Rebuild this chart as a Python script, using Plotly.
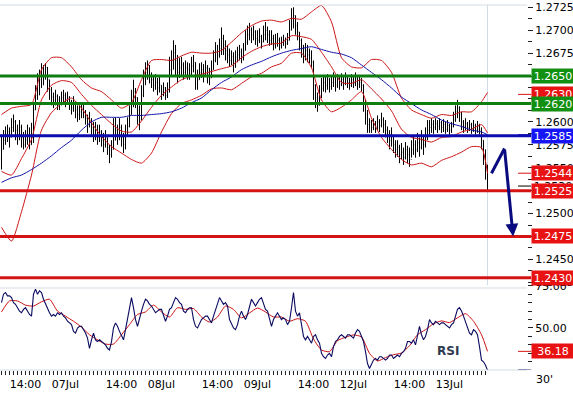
import plotly.graph_objects as go

# ---------------- data (30' bars, 06Jul 08:00 .. 13Jul 09:30) ----------------
first_open = 1.2560
close = [1.2570,1.2580,1.2586,1.2589,1.2583,1.2594,1.2600,1.2591,1.2586,1.2594,
1.2583,1.2575,1.2580,1.2586,1.2575,1.2583,1.2613,1.2629,1.2640,1.2646,
1.2657,1.2651,1.2659,1.2646,1.2635,1.2627,1.2624,1.2628,1.2624,1.2620,
1.2626,1.2629,1.2624,1.2627,1.2621,1.2615,1.2622,1.2613,1.2608,1.2611,
1.2615,1.2611,1.2604,1.2597,1.2602,1.2594,1.2586,1.2591,1.2583,1.2589,
1.2580,1.2575,1.2583,1.2572,1.2564,1.2570,1.2580,1.2591,1.2586,1.2594,
1.2583,1.2575,1.2586,1.2595,1.2608,1.2624,1.2633,1.2626,1.2608,1.2602,
1.2629,1.2648,1.2654,1.2659,1.2651,1.2646,1.2640,1.2643,1.2637,1.2640,
1.2633,1.2637,1.2629,1.2635,1.2657,1.2667,1.2676,1.2667,1.2654,1.2659,
1.2662,1.2654,1.2659,1.2657,1.2652,1.2661,1.2665,1.2651,1.2646,1.2654,
1.2657,1.2652,1.2659,1.2651,1.2648,1.2657,1.2667,1.2676,1.2673,1.2680,
1.2691,1.2684,1.2678,1.2673,1.2667,1.2671,1.2664,1.2670,1.2673,1.2676,
1.2670,1.2678,1.2687,1.2695,1.2700,1.2695,1.2698,1.2691,1.2689,1.2693,
1.2687,1.2695,1.2700,1.2695,1.2689,1.2691,1.2684,1.2687,1.2689,1.2684,
1.2687,1.2689,1.2685,1.2689,1.2700,1.2713,1.2716,1.2705,1.2698,1.2689,
1.2680,1.2673,1.2678,1.2673,1.2670,1.2665,1.2640,1.2626,1.2618,1.2629,
1.2637,1.2643,1.2640,1.2646,1.2639,1.2643,1.2648,1.2640,1.2646,1.2641,
1.2646,1.2642,1.2648,1.2643,1.2640,1.2646,1.2642,1.2647,1.2641,1.2643,
1.2640,1.2624,1.2608,1.2597,1.2600,1.2594,1.2598,1.2595,1.2600,1.2596,
1.2602,1.2597,1.2591,1.2586,1.2580,1.2584,1.2575,1.2570,1.2572,1.2564,
1.2567,1.2561,1.2570,1.2564,1.2559,1.2570,1.2575,1.2570,1.2577,1.2572,
1.2580,1.2575,1.2583,1.2591,1.2594,1.2597,1.2594,1.2598,1.2595,1.2599,
1.2594,1.2597,1.2592,1.2596,1.2591,1.2595,1.2602,1.2611,1.2615,1.2608,
1.2600,1.2595,1.2598,1.2594,1.2597,1.2592,1.2596,1.2591,1.2595,1.2591,
1.2580,1.2564,1.2553,1.2530]

high = [1.2586,1.2591,1.2595,1.2597,1.2594,1.2604,1.2608,1.2602,1.2597,1.2602,
1.2597,1.2589,1.2591,1.2597,1.2594,1.2599,1.2621,1.2640,1.2653,1.2657,
1.2664,1.2662,1.2664,1.2660,1.2646,1.2638,1.2632,1.2635,1.2630,1.2628,
1.2633,1.2635,1.2632,1.2633,1.2628,1.2624,1.2628,1.2622,1.2618,1.2618,
1.2621,1.2620,1.2613,1.2608,1.2611,1.2604,1.2600,1.2600,1.2597,1.2597,
1.2591,1.2588,1.2591,1.2583,1.2575,1.2580,1.2604,1.2605,1.2597,1.2604,
1.2597,1.2588,1.2597,1.2605,1.2618,1.2635,1.2646,1.2637,1.2627,1.2618,
1.2640,1.2657,1.2665,1.2667,1.2662,1.2654,1.2651,1.2652,1.2648,1.2649,
1.2640,1.2643,1.2638,1.2643,1.2671,1.2678,1.2689,1.2684,1.2673,1.2670,
1.2671,1.2665,1.2667,1.2665,1.2664,1.2671,1.2673,1.2665,1.2657,1.2664,
1.2665,1.2663,1.2667,1.2662,1.2659,1.2667,1.2678,1.2687,1.2684,1.2691,
1.2703,1.2695,1.2689,1.2684,1.2680,1.2678,1.2676,1.2678,1.2682,1.2684,
1.2680,1.2686,1.2700,1.2705,1.2708,1.2703,1.2705,1.2700,1.2700,1.2702,
1.2695,1.2705,1.2709,1.2704,1.2700,1.2700,1.2695,1.2696,1.2697,1.2692,
1.2693,1.2695,1.2692,1.2697,1.2711,1.2724,1.2725,1.2716,1.2709,1.2698,
1.2691,1.2684,1.2686,1.2684,1.2680,1.2678,1.2667,1.2641,1.2632,1.2640,
1.2648,1.2651,1.2649,1.2652,1.2648,1.2650,1.2654,1.2649,1.2652,1.2649,
1.2653,1.2650,1.2654,1.2651,1.2648,1.2652,1.2649,1.2654,1.2649,1.2650,
1.2648,1.2641,1.2624,1.2613,1.2604,1.2602,1.2604,1.2601,1.2607,1.2603,
1.2610,1.2605,1.2602,1.2595,1.2591,1.2594,1.2586,1.2580,1.2580,1.2575,
1.2577,1.2572,1.2578,1.2574,1.2572,1.2580,1.2586,1.2580,1.2588,1.2583,
1.2591,1.2586,1.2594,1.2602,1.2602,1.2604,1.2602,1.2604,1.2602,1.2604,
1.2601,1.2603,1.2600,1.2602,1.2598,1.2600,1.2611,1.2618,1.2624,1.2617,
1.2611,1.2602,1.2604,1.2600,1.2602,1.2599,1.2602,1.2598,1.2601,1.2598,
1.2594,1.2580,1.2570,1.2553]

low = [1.2548,1.2570,1.2575,1.2578,1.2572,1.2586,1.2589,1.2580,1.2575,1.2580,
1.2572,1.2570,1.2572,1.2575,1.2570,1.2575,1.2577,1.2613,1.2624,1.2629,
1.2637,1.2640,1.2646,1.2633,1.2624,1.2618,1.2615,1.2618,1.2613,1.2613,
1.2618,1.2621,1.2616,1.2620,1.2613,1.2608,1.2611,1.2604,1.2600,1.2602,
1.2604,1.2604,1.2597,1.2588,1.2594,1.2586,1.2578,1.2580,1.2575,1.2578,
1.2573,1.2567,1.2572,1.2564,1.2555,1.2561,1.2570,1.2580,1.2575,1.2580,
1.2573,1.2566,1.2570,1.2584,1.2594,1.2608,1.2616,1.2615,1.2597,1.2591,
1.2602,1.2627,1.2640,1.2646,1.2642,1.2637,1.2633,1.2635,1.2629,1.2632,
1.2624,1.2628,1.2624,1.2626,1.2632,1.2651,1.2657,1.2651,1.2642,1.2648,
1.2651,1.2646,1.2649,1.2646,1.2646,1.2651,1.2654,1.2635,1.2635,1.2646,
1.2648,1.2643,1.2650,1.2642,1.2640,1.2648,1.2657,1.2665,1.2662,1.2670,
1.2673,1.2673,1.2667,1.2664,1.2660,1.2662,1.2654,1.2659,1.2665,1.2667,
1.2664,1.2667,1.2678,1.2684,1.2689,1.2686,1.2689,1.2684,1.2682,1.2686,
1.2680,1.2687,1.2689,1.2686,1.2683,1.2684,1.2678,1.2680,1.2682,1.2678,
1.2680,1.2683,1.2680,1.2684,1.2689,1.2700,1.2702,1.2695,1.2689,1.2678,
1.2670,1.2664,1.2667,1.2665,1.2664,1.2659,1.2624,1.2615,1.2611,1.2618,
1.2626,1.2633,1.2632,1.2635,1.2632,1.2635,1.2638,1.2633,1.2637,1.2635,
1.2639,1.2635,1.2640,1.2637,1.2635,1.2638,1.2637,1.2639,1.2635,1.2637,
1.2633,1.2611,1.2597,1.2588,1.2588,1.2588,1.2591,1.2588,1.2591,1.2589,
1.2594,1.2588,1.2583,1.2577,1.2570,1.2573,1.2566,1.2561,1.2562,1.2555,
1.2559,1.2553,1.2559,1.2555,1.2551,1.2561,1.2564,1.2561,1.2567,1.2562,
1.2570,1.2564,1.2572,1.2580,1.2586,1.2588,1.2587,1.2591,1.2588,1.2591,
1.2588,1.2589,1.2587,1.2589,1.2586,1.2588,1.2594,1.2600,1.2604,1.2600,
1.2591,1.2588,1.2591,1.2588,1.2590,1.2587,1.2589,1.2586,1.2588,1.2586,
1.2570,1.2553,1.2537,1.2524]

# indicator samples (bar index of each sample)
band_x = [0,5,10,15,20,25,30,35,40,45,50,55,60,65,70,75,80,85,90,95,
          100,105,110,115,120,125,130,135,140,145,150,155,160,165,170,175,180,185,190,195,
          200,205,210,215,220,225,230,235,240,243]
boll_upper = [1.2608,1.2615,1.2617,1.2619,1.2657,1.2670,1.2670,1.2660,1.2646,1.2637,
 1.2633,1.2624,1.2615,1.2621,1.2646,1.2667,1.2668,1.2667,1.2672,1.2676,
 1.2675,1.2675,1.2678,1.2687,1.2697,1.2705,1.2710,1.2711,1.2709,1.2713,
 1.2712,1.2720,1.2727,1.2709,1.2670,1.2660,1.2659,1.2668,1.2667,1.2654,
 1.2626,1.2613,1.2608,1.2604,1.2608,1.2607,1.2611,1.2611,1.2622,1.2632]
boll_mid = [1.2546,1.2542,1.2560,1.2581,1.2624,1.2640,1.2645,1.2643,1.2630,1.2618,
 1.2608,1.2598,1.2590,1.2589,1.2601,1.2616,1.2629,1.2638,1.2646,1.2650,
 1.2652,1.2655,1.2658,1.2661,1.2670,1.2677,1.2682,1.2685,1.2686,1.2694,
 1.2693,1.2690,1.2676,1.2660,1.2643,1.2642,1.2646,1.2636,1.2625,1.2612,
 1.2592,1.2583,1.2581,1.2578,1.2583,1.2584,1.2589,1.2592,1.2597,1.2588]
boll_lower = [1.2485,1.2470,1.2502,1.2542,1.2591,1.2610,1.2620,1.2626,1.2615,1.2599,
 1.2584,1.2573,1.2566,1.2559,1.2555,1.2566,1.2589,1.2609,1.2620,1.2624,
 1.2629,1.2636,1.2637,1.2635,1.2642,1.2649,1.2653,1.2660,1.2664,1.2675,
 1.2675,1.2659,1.2624,1.2611,1.2616,1.2624,1.2633,1.2604,1.2583,1.2570,
 1.2559,1.2553,1.2555,1.2551,1.2558,1.2562,1.2567,1.2573,1.2572,1.2544]
ma_blue = [1.2534,1.2539,1.2542,1.2548,1.2555,1.2563,1.2572,1.2580,1.2591,1.2600,
 1.2605,1.2605,1.2605,1.2607,1.2607,1.2608,1.2609,1.2611,1.2615,1.2621,
 1.2626,1.2635,1.2643,1.2649,1.2657,1.2662,1.2666,1.2671,1.2675,1.2678,
 1.2680,1.2682,1.2679,1.2676,1.2674,1.2670,1.2662,1.2654,1.2646,1.2637,
 1.2627,1.2620,1.2613,1.2608,1.2602,1.2598,1.2595,1.2591,1.2589,1.2586]

rsi = [65,70,71,69,69,68,65,64,62,60,
59,61,62,60,58,57,70,73,70,72,
71,67,64,61,59,57,58,57,59,58,
59,57,56,54,53,52,48,47,50,51,
51,49,47,44,38,43,47,43,42,43,
42,41,40,38,37,42,50,53,51,48,
45,43,49,56,63,68,62,55,51,56,
60,64,67,66,64,63,61,59,60,61,
61,58,54,57,61,62,65,68,67,65,
64,60,59,61,62,62,55,51,50,53,
55,56,57,57,55,53,57,61,65,68,
66,64,65,63,55,52,50,49,52,57,
60,57,55,58,62,67,65,63,65,67,
68,64,61,60,55,51,55,57,59,57,
55,56,55,52,54,62,71,60,57,59,
51,45,43,45,43,41,45,46,43,41,
35,33,32,34,35,33,39,42,43,45,
46,45,44,46,46,45,44,47,49,48,
45,42,36,29,26,29,31,32,31,33,
33,32,31,32,34,34,32,33,34,33,
35,36,38,42,42,41,43,40,45,51,
46,43,45,49,55,53,52,54,53,52,
53,53,52,51,50,52,53,57,61,62,
60,57,54,50,47,46,49,48,46,39,
31,30,28,25.08]
sig_x = [0,4,8,12,16,20,24,28,32,36,40,44,48,52,56,60,64,68,72,76,
         80,84,88,92,96,100,104,108,112,116,120,124,128,132,136,140,144,148,152,156,
         160,164,168,172,176,180,184,188,192,196,200,204,208,212,216,220,224,228,232,236,
         240,243]
rsi_signal = [59.5,66,66,63.5,63,65.5,67,60,57,54,
 50.5,46,43,40.5,40.5,46,52,58,59.5,63.5,
 59.5,56.5,62,61,61.5,56.5,53.5,56.5,63,61,
 56,58.9,61.8,59.5,56.5,56.5,54,55.5,54,43.5,
 37,36,42.5,44.5,45.9,44.7,35,30.5,32.5,34.2,
 35.2,39.5,46,49,52.5,54.2,53.2,56,58.5,54,
 46,36.18]

levels = [1.2650, 1.2620, 1.2585, 1.2525, 1.2475, 1.2430]
level_kind = ["green", "green", "blue", "red", "red", "red"]
upper_last = 1.2630
lower_last = 1.2544
last_close = 1.2530
forecast_x = [245, 251.5, 255.8]
forecast_y = [1.2544, 1.2571, 1.2475]

tick_pos = [12, 32, 60, 80, 108, 128, 156, 176, 204, 224]
tick_lab = ["14:00", "07Jul", "14:00", "08Jul", "14:00", "09Jul", "14:00", "12Jul", "14:00", "13Jul"]

# ---------------- styles ----------------
LINE_COL = {"green": "#0f7d0f", "blue": "#0c0cb0", "red": "#d41414"}
BOX_COL = {"green": "#129012", "blue": "#1515f5", "red": "#e81212"}
FONT = "DejaVu Sans, Verdana, sans-serif"

n = len(close)
bars = list(range(n))
opens = [first_open] + close[:-1]

fig = go.Figure()
fig.add_trace(go.Ohlc(x=bars, open=opens, high=high, low=low, close=close,
                      increasing=dict(line=dict(color="black", width=1)),
                      decreasing=dict(line=dict(color="black", width=1)),
                      tickwidth=0.3, hoverinfo="skip", xaxis="x", yaxis="y"))
for arr in (boll_upper, boll_mid, boll_lower):
    fig.add_trace(go.Scatter(x=band_x, y=arr, mode="lines", line=dict(color="#cc1616", width=1, shape="spline", smoothing=0.6),
                             hoverinfo="skip", xaxis="x", yaxis="y"))
fig.add_trace(go.Scatter(x=band_x, y=ma_blue, mode="lines", line=dict(color="#1212a8", width=1, shape="spline", smoothing=0.6),
                         hoverinfo="skip", xaxis="x", yaxis="y"))
fig.add_trace(go.Scatter(x=forecast_x[:2], y=forecast_y[:2], mode="lines", line=dict(color="#0a0a80", width=3),
                         hoverinfo="skip", xaxis="x", yaxis="y", cliponaxis=False))
fig.add_trace(go.Scatter(x=sig_x, y=rsi_signal, mode="lines", line=dict(color="#cc1010", width=1, shape="spline", smoothing=0.6),
                         hoverinfo="skip", xaxis="x", yaxis="y2"))
fig.add_trace(go.Scatter(x=bars, y=rsi, mode="lines", line=dict(color="#0a0a60", width=1.1),
                         hoverinfo="skip", xaxis="x", yaxis="y2"))

shapes = []
border = "#d3dde6"
shapes.append(dict(type="line", xref="paper", x0=0, x1=1, yref="y domain", y0=1, y1=1, line=dict(color=border, width=1)))
shapes.append(dict(type="line", xref="paper", x0=0, x1=1, yref="y domain", y0=0, y1=0, line=dict(color=border, width=1)))
shapes.append(dict(type="line", xref="paper", x0=0, x1=1, yref="y2 domain", y0=0, y1=0, line=dict(color=border, width=1)))
shapes.append(dict(type="line", xref="x", x0=n - 1, x1=n - 1, yref="paper", y0=0, y1=1, line=dict(color="#cfdbe6", width=1), layer="below"))
for lv, kind in zip(levels, level_kind):
    shapes.append(dict(type="line", xref="paper", x0=0, x1=1.008, yref="y", y0=lv, y1=lv,
                       line=dict(color=LINE_COL[kind], width=3)))
# small marker dashes beside value boxes
for yv, col, yr in [(upper_last, "#d41414", "y"), (lower_last, "#d41414", "y"), (last_close, "black", "y"),
                    (ma_blue[-1], "#0c0cb0", "y"), (rsi_signal[-1], "#d41414", "y2"), (rsi[-1], "#0a0a60", "y2")]:
    shapes.append(dict(type="line", xref="paper", x0=0.983, x1=1.008, yref=yr, y0=yv, y1=yv, line=dict(color=col, width=1)))

def box(y, text, bg, yref="y", fc="white"):
    return dict(xref="paper", x=1, xshift=4, xanchor="left", yref=yref, y=y, yanchor="middle",
                text=text, showarrow=False, bgcolor=bg, font=dict(color=fc, size=11, family=FONT),
                width=42, height=14, align="center", borderpad=0)

ann = []
ann.append(box(upper_last, f"{upper_last:.4f}", BOX_COL["red"]))
ann.append(box(last_close, f"{last_close:.4f}", "rgba(0,0,0,0)", fc="black"))
for lv, kind in zip(levels[:3], level_kind[:3]):
    ann.append(box(lv, f"{lv:.4f}", BOX_COL[kind]))
ann.append(box(lower_last, f"{lower_last:.4f}", BOX_COL["red"]))
for lv, kind in zip(levels[3:], level_kind[3:]):
    ann.append(box(lv, f"{lv:.4f}", BOX_COL[kind]))
ann.append(box(rsi_signal[-1], f"{rsi_signal[-1]:.2f}", BOX_COL["red"], yref="y2"))
ann.append(box(rsi[-1], f"{rsi[-1]:.2f}", "#00005a", yref="y2"))
ann.append(dict(xref="x", yref="y", x=forecast_x[2], y=forecast_y[2], ax=forecast_x[1], ay=forecast_y[1],
                axref="x", ayref="y", showarrow=True, arrowhead=2, arrowsize=0.85, arrowwidth=3,
                arrowcolor="#0a0a80", text=""))
ann.append(dict(xref="x", yref="y2", x=223, y=36.4, text="<b>RSI</b>", showarrow=False,
                font=dict(size=12, color="#2e3a4e", family=FONT)))
ann.append(dict(xref="paper", yref="paper", x=1.053, y=-0.05, text="30'", showarrow=False,
                font=dict(size=11, color="black", family=FONT)))

tickvals = list(range(0, n, 2))
lab_map = dict(zip(tick_pos, tick_lab))
ticktext = [lab_map.get(v, "") for v in tickvals]

fig.update_layout(
    width=573, height=397,
    margin=dict(l=0, r=46, t=5, b=27),
    paper_bgcolor="white", plot_bgcolor="white",
    showlegend=False,
    font=dict(family=FONT, size=11, color="black"),
    xaxis=dict(range=[-0.75, 262.75], anchor="y2", tickmode="array", tickvals=tickvals, ticktext=ticktext,
               ticks="outside", ticklen=4, tickwidth=1, tickcolor="#222", showgrid=False, zeroline=False,
               showline=False, rangeslider=dict(visible=False), tickfont=dict(size=11, family=FONT)),
    yaxis=dict(domain=[0.2247, 1], range=[1.24188, 1.27275], side="right", tickmode="linear", tick0=1.2500,
               dtick=0.0025, tickformat=".4f", ticks="outside", ticklen=5, tickcolor="#222",
               showgrid=False, zeroline=False, showline=False,
               minor=dict(dtick=0.00125, tick0=1.2500, ticks="outside", ticklen=4, tickcolor="#222")),
    yaxis2=dict(domain=[0, 0.2329], range=[25.15, 75.44], side="right", tickmode="linear", tick0=0, dtick=25,
                tickformat=".2f", ticks="outside", ticklen=5, tickcolor="#222", showgrid=False,
                zeroline=False, showline=False,
                minor=dict(dtick=5, tick0=0, ticks="outside", ticklen=4, tickcolor="#222")),
    shapes=shapes,
    annotations=ann,
)

fig.write_html("out.html")
